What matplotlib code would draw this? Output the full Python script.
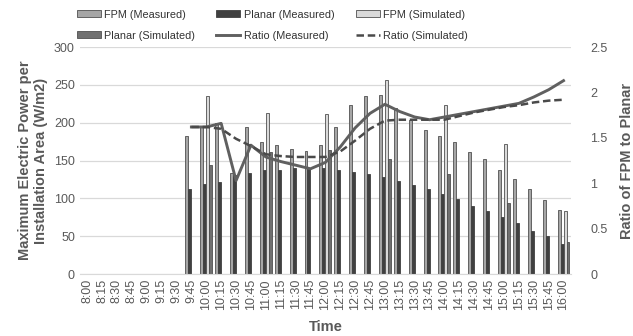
import numpy as np
import matplotlib.pyplot as plt

plt.rcParams["font.family"] = ["Liberation Sans", "DejaVu Sans"]

times = ["8:00", "8:15", "8:30", "8:45", "9:00", "9:15", "9:30", "9:45",
         "10:00", "10:15", "10:30", "10:45", "11:00", "11:15", "11:30", "11:45",
         "12:00", "12:15", "12:30", "12:45", "13:00", "13:15", "13:30", "13:45",
         "14:00", "14:15", "14:30", "14:45", "15:00", "15:15", "15:30", "15:45",
         "16:00"]

# measured every 15 min from 9:45
meas_times = times[7:]
fpm_meas = [183, 195, 200, 133, 195, 174, 170, 165, 163, 170, 195, 223, 235,
            237, 220, 204, 191, 183, 174, 162, 152, 138, 126, 112, 98, 85]
planar_meas = [113, 119, 122, 131, 134, 137, 138, 140, 139, 140, 138, 135, 132,
               128, 123, 118, 113, 106, 99, 90, 84, 76, 67, 57, 50, 40]
ratio_meas = [1.62, 1.62, 1.66, 1.03, 1.42, 1.29, 1.24, 1.20, 1.16, 1.23, 1.40,
              1.61, 1.77, 1.87, 1.79, 1.73, 1.70, 1.73, 1.76, 1.79, 1.82, 1.85,
              1.88, 1.95, 2.03, 2.13]
ratio_sim = [1.62, 1.62, 1.60, 1.49, 1.41, 1.32, 1.30, 1.29, 1.29, 1.29, 1.35,
             1.47, 1.60, 1.69, 1.70, 1.70, 1.70, 1.70, 1.74, 1.78, 1.81, 1.84,
             1.86, 1.89, 1.91, 1.92]

# simulated on the hour
sim_times = ["10:00", "11:00", "12:00", "13:00", "14:00", "15:00", "16:00"]
fpm_sim = [235, 213, 212, 257, 224, 172, 84]
planar_sim = [144, 162, 164, 152, 132, 94, 43]

xm = np.array([times.index(t) for t in meas_times])
xs = np.array([times.index(t) for t in sim_times])

grey = "#595959"
fig = plt.figure(figsize=(6.33, 3.36), dpi=100)
ax = fig.add_axes([0.126, 0.184, 0.776, 0.676])

w = 0.2
b1 = ax.bar(xm - 1.5 * w, fpm_meas, w, color="#a6a6a6", edgecolor="#505050", linewidth=0.6)
b2 = ax.bar(xm - 0.5 * w, planar_meas, w, color="#404040", edgecolor="#404040", linewidth=0.6)
b3 = ax.bar(xs + 0.5 * w, fpm_sim, w, color="#d9d9d9", edgecolor="#505050", linewidth=0.6)
b4 = ax.bar(xs + 1.5 * w, planar_sim, w, color="#707070", edgecolor="#505050", linewidth=0.6)

ax.set_xlim(-0.5, len(times) - 0.5)
ax.set_ylim(0, 300)
ax.set_yticks(np.arange(0, 301, 50))
ax.set_xticks(np.arange(len(times)))
ax.set_xticklabels(times, rotation=90)
ax.yaxis.grid(True, color="#d9d9d9", linewidth=0.9)
ax.set_axisbelow(True)
for s in ["top", "left", "right"]:
    ax.spines[s].set_visible(False)
ax.spines["bottom"].set_color("#d9d9d9")
ax.tick_params(length=0, colors=grey, labelsize=9)
ax.set_ylabel("Maximum Electric Power per\nInstallation Area (W/m2)",
              fontsize=10.5, fontweight="bold", color=grey, labelpad=4)
ax.set_xlabel("Time", fontsize=10.5, fontweight="bold", color=grey, labelpad=7)

ax2 = ax.twinx()
l1, = ax2.plot(xm, ratio_meas, color="#606060", linewidth=2.1)
l2, = ax2.plot(xm, ratio_sim, color="#4a4a4a", linewidth=1.8, linestyle=(0, (3, 1.5)))
ax2.set_ylim(0, 2.5)
ax2.set_yticks([0, 0.5, 1, 1.5, 2, 2.5])
ax2.set_yticklabels(["0", "0.5", "1", "1.5", "2", "2.5"])
for s in ax2.spines.values():
    s.set_visible(False)
ax2.tick_params(length=0, colors=grey, labelsize=9, pad=14)
ax2.set_ylabel("Ratio of FPM to Planar", fontsize=10.5, fontweight="bold",
               color=grey, labelpad=9)

handles = [b1, b4, b2, l1, b3, l2]
labels = ["FPM (Measured)", "Planar (Simulated)", "Planar (Measured)",
          "Ratio (Measured)", "FPM (Simulated)", "Ratio (Simulated)"]
leg = fig.legend(handles, labels, ncol=3, loc="upper left", bbox_to_anchor=(0.106, 1.0),
                 frameon=False, fontsize=7.8, handlelength=2.2, handleheight=0.6,
                 handletextpad=0.35, columnspacing=1.95, labelspacing=1.0)
for t in leg.get_texts():
    t.set_color("#333333")

fig.savefig("out.png", dpi=100)
